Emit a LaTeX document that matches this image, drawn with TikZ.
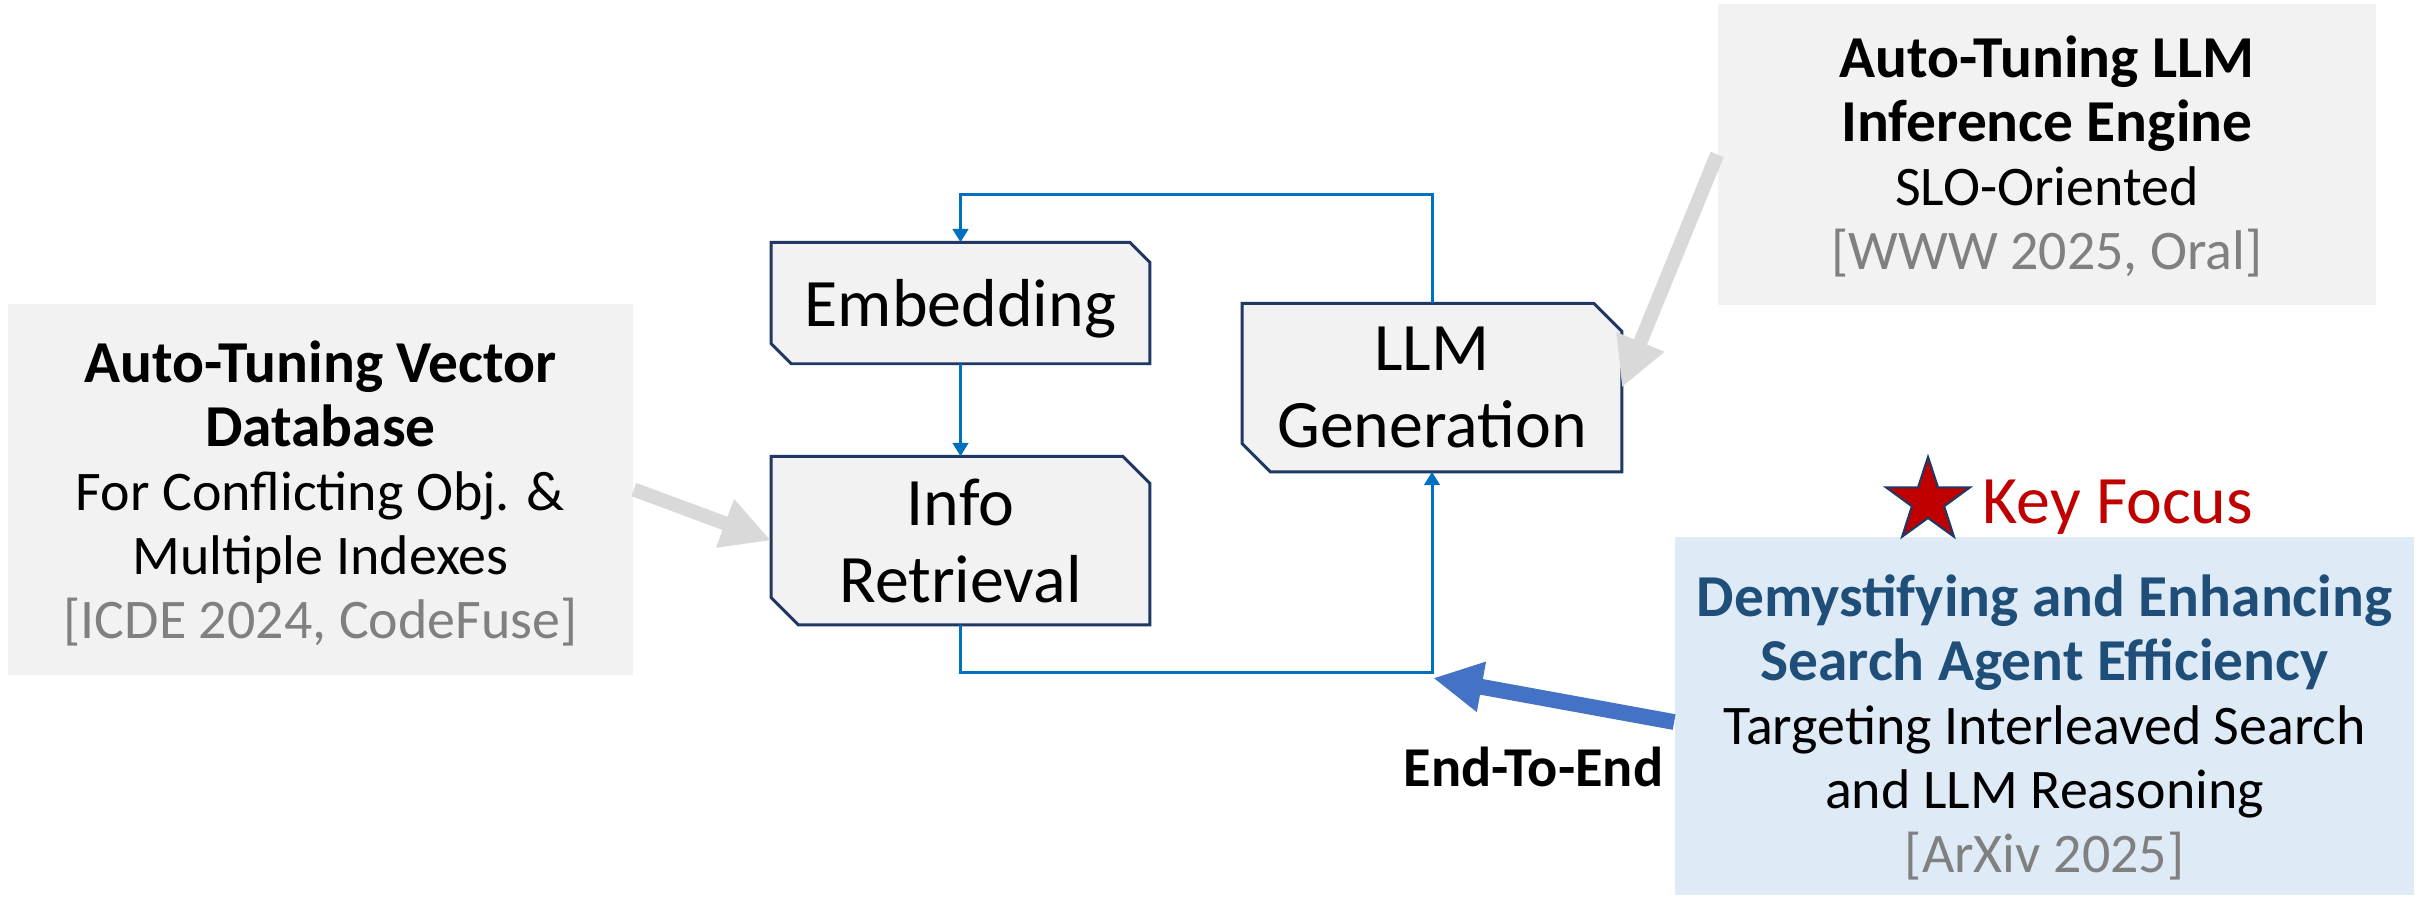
\documentclass[tikz,border=0pt]{standalone}
\usepackage{fontspec}
\setmainfont{Carlito}
\usetikzlibrary{shapes.geometric,arrows.meta,calc,backgrounds}

\definecolor{panelgray}{HTML}{F2F2F2}
\definecolor{pointergray}{HTML}{D9D9D9}
\definecolor{framenavy}{HTML}{1F3864}
\definecolor{loopblue}{HTML}{0070C0}
\definecolor{pushblue}{HTML}{4472C4}
\definecolor{titleblue}{HTML}{1F4E79}
\definecolor{focusfill}{HTML}{DEEBF7}
\definecolor{citegray}{HTML}{808080}
\definecolor{focusred}{HTML}{C00000}

\newcommand{\bodyfont}{\fontsize{15.9pt}{18.2pt}\selectfont}
\newcommand{\headline}[1]{{\fontsize{16.9pt}{18.2pt}\selectfont\bfseries #1}}
\newcommand{\stagefont}{\fontsize{19.3pt}{21.9pt}\selectfont}
\newcommand{\labelfont}{\fontsize{16pt}{17pt}\selectfont\bfseries}

% frame with the top-right and bottom-left corners snipped off
\newcommand{\snipframe}[2]{%
  \path[stageframe] (#1.north west) -- ($(#1.north east)+(-#2,0)$)
    -- ($(#1.north east)+(0,#2)$) -- (#1.south east)
    -- ($(#1.south west)+(#2,0)$) -- ($(#1.south west)+(0,-#2)$) -- cycle;}

\tikzset{
  panel/.style={fill=#1, draw=none, inner sep=0pt},
  paneltext/.style={align=center, inner sep=0pt, font=\bodyfont},
  stage/.style={inner sep=0pt, align=center, font=\stagefont},
  stageframe/.style={fill=panelgray, draw=framenavy, line width=0.85pt, line join=miter},
  loopflow/.style={draw=loopblue, line width=0.85pt, -{Triangle[length=3.8pt,width=4.4pt]}},
  pointer/.style={draw=pointergray, line width=4pt, -{Triangle[length=14pt,width=13.7pt]}},
  push/.style={draw=pushblue, line width=4.5pt, -{Triangle[length=14pt,width=13.5pt]}},
}

\begin{document}
\begin{tikzpicture}[x=0.01cm, y=-0.01cm]
  \useasboundingbox (0,0) rectangle (2422,905);

  % side panels
  \node[panel=panelgray, minimum width=6.25cm, minimum height=3.71cm] (vecdb) at (320.5,489.5) {};
  \node[panel=panelgray, minimum width=6.58cm, minimum height=3.01cm] (engine) at (2047,154.5) {};
  \node[panel=focusfill, minimum width=7.39cm, minimum height=3.58cm] (agent) at (2044.5,716) {};

  \node[paneltext] (vecdbtext) at (320.5,493)
    {\headline{Auto-Tuning Vector}\\\headline{Database}\\For Conflicting Obj. \&\\Multiple Indexes\\\textcolor{citegray}{[ICDE 2024, CodeFuse]}};
  \node[paneltext] (enginetext) at (2047,156)
    {\headline{Auto-Tuning LLM}\\\headline{Inference Engine}\\SLO-Oriented\\\textcolor{citegray}{[WWW 2025, Oral]}};
  \node[paneltext] (agenttext) at (2044.5,727)
    {\textcolor{titleblue}{\headline{Demystifying and Enhancing}}\\\textcolor{titleblue}{\headline{Search Agent Efficiency}}\\Targeting Interleaved Search\\and LLM Reasoning\\\textcolor{citegray}{[ArXiv 2025]}};

  % pipeline stages
  \node[stage, text depth=0pt, minimum width=3.77cm, minimum height=1.20cm] (emb) at (960.5,303) {Embedding};
  \node[stage, minimum width=3.77cm, minimum height=1.67cm] (info) at (960.5,540.5) {Info\\Retrieval};
  \node[stage, minimum width=3.78cm, minimum height=1.67cm] (llm) at (1432,387.5) {LLM\\Generation};

  \begin{scope}[on background layer]
    \fill[white] (0,0) rectangle (2422,905);
    \snipframe{emb}{20}
    \snipframe{info}{27}
    \snipframe{llm}{28}
  \end{scope}

  % pipeline loop
  \draw[loopflow] (llm.north) -- ++(0,-109) -| (emb.north);
  \draw[loopflow] (emb.south) -- (info.north);
  \draw[loopflow] (info.south) -- ++(0,48) -| (llm.south);

  % links from the side panels
  \draw[pointer] (vecdb.east) -- (info.west);
  \draw[pointer] (engine.west) -- (llm.east);

  \coordinate (e2etip) at (1433,678);
  \draw[push] ($(agent.west)+(0,6)$) -- (e2etip);
  \node[anchor=base west, inner sep=0pt, font=\labelfont] (e2elabel) at (1403,786) {End-To-End};

  % key focus marker
  \node[star, star points=5, star point ratio=2.6, minimum size=0.88cm, inner sep=0pt,
        fill=focusred, draw=framenavy, line width=0.6pt] (focusstar) at (1928,501) {};
  \node[anchor=base west, inner sep=0pt, font=\stagefont, text=focusred] (keyfocus) at (1982,523) {Key Focus};
\end{tikzpicture}
\end{document}
